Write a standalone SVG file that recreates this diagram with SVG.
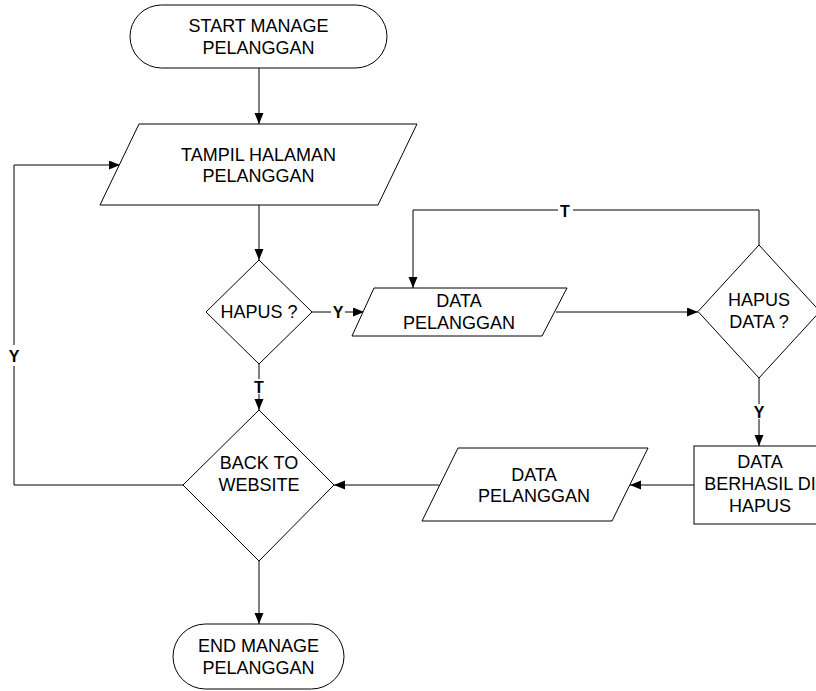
<svg xmlns="http://www.w3.org/2000/svg" width="816" height="691" viewBox="0 0 816 691">
<style>
.shape{fill:#fff;stroke:#000;stroke-width:1}
.t{font-family:"Liberation Sans",Arial,sans-serif;font-size:18px;fill:#000;text-anchor:middle}
.lbl{font-family:"Liberation Sans",Arial,sans-serif;font-size:16px;font-weight:bold;fill:#000;text-anchor:middle}
.c{fill:none;stroke:#000;stroke-width:1}
.bg{fill:#fff;stroke:none}
</style>
<defs>
<marker id="arr" markerUnits="userSpaceOnUse" markerWidth="12" markerHeight="10" refX="11" refY="4.5" orient="auto">
<path d="M0,0 L11,4.5 L0,9 z" fill="#000"/>
</marker>
</defs>
<rect width="816" height="691" fill="#fff"/>
<g id="connectors">
<path class="c" d="M259,68 V124" marker-end="url(#arr)"/>
<path class="c" d="M259,205 V260" marker-end="url(#arr)"/>
<path class="c" d="M312,312 H364" marker-end="url(#arr)"/>
<path class="c" d="M259,364 V410" marker-end="url(#arr)"/>
<path class="c" d="M556,312 H698" marker-end="url(#arr)"/>
<path class="c" d="M759,245 V210 H413 V288" marker-end="url(#arr)"/>
<path class="c" d="M759,378 V446" marker-end="url(#arr)"/>
<path class="c" d="M694,485 H630" marker-end="url(#arr)"/>
<path class="c" d="M439,485 H334" marker-end="url(#arr)"/>
<path class="c" d="M259,561 V624" marker-end="url(#arr)"/>
<path class="c" d="M183,485 H14 V165 H120" marker-end="url(#arr)"/>
<rect class="bg" x="331" y="304" width="14" height="15"/>
<text class="lbl" x="338" y="318">Y</text>
<rect class="bg" x="252" y="379" width="14" height="15"/>
<text class="lbl" x="259" y="393">T</text>
<rect class="bg" x="558" y="203" width="15" height="15"/>
<text class="lbl" x="565" y="217">T</text>
<rect class="bg" x="752" y="404" width="14" height="15"/>
<text class="lbl" x="759" y="418">Y</text>
<rect class="bg" x="7" y="345" width="14" height="21"/>
<text class="lbl" x="14" y="362">Y</text>
</g>
<g id="start">
<rect class="shape" x="130" y="5" width="257" height="63" rx="31.5"/>
<text class="t" x="258.5" y="32">START MANAGE</text>
<text class="t" x="258.5" y="54">PELANGGAN</text>
</g>
<g id="tampil">
<polygon class="shape" points="139,124 417,124 378,205 100,205"/>
<text class="t" x="258.5" y="161">TAMPIL HALAMAN</text>
<text class="t" x="258.5" y="182">PELANGGAN</text>
</g>
<g id="hapus">
<polygon class="shape" points="259,260 312,312 259,364 206,312"/>
<text class="t" x="259" y="318">HAPUS ?</text>
</g>
<g id="data1">
<polygon class="shape" points="374,288 567,288 542,336 352,336"/>
<text class="t" x="459" y="307">DATA</text>
<text class="t" x="459" y="329">PELANGGAN</text>
</g>
<g id="hapusdata">
<polygon class="shape" points="759,245 820,311.5 759,378 698,311.5"/>
<text class="t" x="759" y="306">HAPUS</text>
<text class="t" x="759" y="328">DATA ?</text>
</g>
<g id="berhasil">
<rect class="shape" x="694" y="446" width="130" height="78"/>
<text class="t" x="760" y="468">DATA</text>
<text class="t" x="760" y="490">BERHASIL DI</text>
<text class="t" x="760" y="512">HAPUS</text>
</g>
<g id="data2">
<polygon class="shape" points="458,448 648,448 612,521 422,521"/>
<text class="t" x="534" y="481">DATA</text>
<text class="t" x="534" y="502">PELANGGAN</text>
</g>
<g id="back">
<polygon class="shape" points="259,410 334,485 259,561 183,485"/>
<text class="t" x="259" y="469">BACK TO</text>
<text class="t" x="259" y="491">WEBSITE</text>
</g>
<g id="end">
<rect class="shape" x="173" y="624" width="171" height="65" rx="32.5"/>
<text class="t" x="258.5" y="652">END MANAGE</text>
<text class="t" x="258.5" y="674">PELANGGAN</text>
</g>
</svg>
